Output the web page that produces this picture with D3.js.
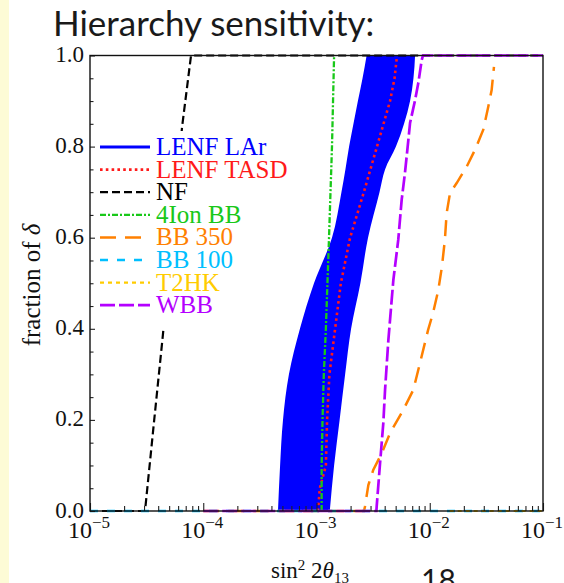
<!DOCTYPE html>
<html>
<head>
<meta charset="utf-8">
<script src="https://cdn.jsdelivr.net/npm/d3@7/dist/d3.min.js"></script>
<style>
  html, body { margin: 0; padding: 0; background: #ffffff; }
  svg { display: block; }
</style>
</head>
<body>
<svg id="chart" width="564" height="583"></svg>
<script>
// Fraction of delta (CP phase) for which the mass hierarchy can be determined,
// as a function of sin^2 2theta13, for several facilities.

// LENF LAr: shaded band (lower / upper edge in sin^2 2theta13 at each fraction)
const larFrac = [0, 0.1, 0.2, 0.3, 0.4, 0.5, 0.6, 0.7, 0.75, 0.8, 0.85, 0.9, 0.95, 1.0];
const larLo   = [4.57e-4, 4.77e-4, 5.06e-4, 5.71e-4, 7.14e-4, 9.5e-4, 1.37e-3, 1.66e-3, 1.80e-3, 1.94e-3, 2.12e-3, 2.32e-3, 2.55e-3, 2.77e-3];
const larHi   = [1.31e-3, 1.43e-3, 1.60e-3, 1.79e-3, 2.02e-3, 2.44e-3, 2.85e-3, 3.60e-3, 4.03e-3, 5.03e-3, 5.93e-3, 6.70e-3, 7.18e-3, 7.42e-3];

// LENF TASD
const tasdX = [1.03e-3, 1.07e-3, 1.21e-3, 1.24e-3, 1.30e-3, 1.46e-3, 1.64e-3, 1.98e-3, 2.62e-3, 3.42e-3, 4.46e-3, 4.89e-3, 5.14e-3];
const tasdY = [0, 0.05, 0.1, 0.2, 0.3, 0.4, 0.5, 0.6, 0.7, 0.8, 0.9, 0.95, 1.0];

// NF
const nfX = [1e-5, 3.06e-5, 3.69e-5, 4.4e-5, 6.5e-5, 7.8e-5, 1e-1];
const nfY = [0, 0, 0.2, 0.386, 0.843, 1.0, 1.0];

// 4Ion BB
const ionX = [1.11e-3, 1.11e-3, 1.13e-3, 1.16e-3, 1.21e-3, 1.29e-3, 1.37e-3, 1.43e-3];
const ionY = [0, 0.1, 0.2, 0.3, 0.4, 0.6, 0.8, 1.0];

// BB 350
const bb350X = [1e-4, 2.63e-3, 2.68e-3, 2.87e-3, 3.17e-3, 3.77e-3, 4.46e-3, 5.84e-3, 7.16e-3, 8.2e-3, 9.66e-3,
                1.07e-2, 1.19e-2, 1.28e-2, 1.36e-2, 1.41e-2, 1.51e-2, 1.73e-2, 2.12e-2, 2.51e-2, 2.97e-2, 3.29e-2, 3.52e-2, 3.69e-2];
const bb350Y = [0, 0, 0.01, 0.057, 0.09, 0.127, 0.171, 0.222, 0.266, 0.325, 0.397,
                0.435, 0.485, 0.536, 0.595, 0.654, 0.698, 0.72, 0.756, 0.793, 0.837, 0.888, 0.924, 0.975];

// BB 100
const bb100X = [1e-5, 1e-1];
const bb100Y = [0, 0];

// T2HK
const t2hkX = [1.5e-2, 1e-1];
const t2hkY = [0, 0];

// WBB
const wbbX = [1e-4, 3.38e-3, 3.40e-3, 3.64e-3, 3.89e-3, 4.03e-3, 4.31e-3, 4.77e-3, 5.27e-3, 5.65e-3, 6.04e-3,
              6.47e-3, 6.70e-3, 7.42e-3, 7.93e-3, 8.49e-3, 8.71e-3, 1e-1];
const wbbY = [0, 0, 0.01, 0.105, 0.193, 0.266, 0.375, 0.507, 0.595, 0.683, 0.742,
              0.814, 0.852, 0.902, 0.940, 0.990, 1.0, 1.0];

// Axis ticks
const yMajor = [0, 0.2, 0.4, 0.6, 0.8, 1.0];
const yMajorLabels = ["0.0", "0.2", "0.4", "0.6", "0.8", "1.0"];
const xDecades = [1e-5, 1e-4, 1e-3, 1e-2, 1e-1];
const xDecadeExp = ["\u22125", "\u22124", "\u22123", "\u22122", "\u22121"];

// Legend entries in drawing order
const seriesNames = ["LENF LAr", "LENF TASD", "NF", "4Ion BB", "BB 350", "BB 100", "T2HK", "WBB"];

const serif = "'Liberation Serif', 'Times New Roman', serif";
const sans = "Lato, 'DejaVu Sans', sans-serif";

const svg = d3.select("#chart");

// slide edge strip
svg.append("rect").attr("x", 0).attr("y", 0).attr("width", 9).attr("height", 583).attr("fill", "#fdfbd6");

// title and page number
svg.append("text").attr("x", 53).attr("y", 36)
  .attr("font-family", sans).attr("font-size", 35)
  .attr("fill", "#1a1a1a").text("Hierarchy sensitivity:");
svg.append("text").attr("x", 421).attr("y", 591)
  .attr("font-family", sans).attr("font-size", 30)
  .attr("fill", "#1a1a1a").text("18");

const x = d3.scaleLog().domain([1e-5, 1e-1]).range([90, 543]);
const y = d3.scaleLinear().domain([0, 1]).range([511, 55.5]);

// series styles
const style = {
  "LENF LAr":  { color: "#0000ff", width: 3.0, dash: null },
  "LENF TASD": { color: "#ff1a1a", width: 2.6, dash: "2.6,3.2" },
  "NF":        { color: "#000000", width: 2.2, dash: "8,4" },
  "4Ion BB":   { color: "#19c819", width: 2.3, dash: "6,2,2,2" },
  "BB 350":    { color: "#ff8000", width: 2.5, dash: "16,9" },
  "BB 100":    { color: "#00bfff", width: 2.4, dash: "8,9" },
  "T2HK":      { color: "#ffcc00", width: 2.2, dash: "4,4" },
  "WBB":       { color: "#b400ff", width: 2.7, dash: "15,4" }
};

const plot = svg.append("g");

// LENF LAr band
const band = larFrac.map((f, i) => ({ f, lo: larLo[i], hi: larHi[i] }));
plot.append("path")
  .datum(band)
  .attr("fill", style["LENF LAr"].color)
  .attr("d", d3.area()
    .curve(d3.curveMonotoneY)
    .y(d => y(d.f))
    .x0(d => x(d.lo))
    .x1(d => x(d.hi)));

const lineGen = d3.line().x(d => x(d[0])).y(d => y(d[1]));
function drawSeries(name, xs, ys) {
  const s = style[name];
  plot.append("path")
    .datum(xs.map((v, i) => [v, ys[i]]))
    .attr("fill", "none")
    .attr("stroke", s.color)
    .attr("stroke-width", s.width)
    .attr("stroke-dasharray", s.dash)
    .attr("d", lineGen);
}
drawSeries("LENF TASD", tasdX, tasdY);
drawSeries("NF", nfX, nfY);
drawSeries("4Ion BB", ionX, ionY);
drawSeries("BB 350", bb350X, bb350Y);
drawSeries("BB 100", bb100X, bb100Y);
drawSeries("T2HK", t2hkX, t2hkY);
drawSeries("WBB", wbbX, wbbY);

// axes: minor / major ticks drawn inward
const xMinor = [];
xDecades.slice(0, -1).forEach(d => { for (let k = 2; k <= 9; k++) xMinor.push(d * k); });
const yMinor = d3.range(0, 1.0001, 0.05).filter(v => Math.abs(v * 5 - Math.round(v * 5)) > 1e-6);

const axX = svg.append("g").attr("transform", `translate(0,${y(0)})`);
axX.append("g").call(d3.axisBottom(x).tickValues(xMinor).tickSize(-5).tickFormat(""));
axX.append("g").call(d3.axisBottom(x).tickValues(xDecades).tickSize(-8).tickFormat(""));
axX.selectAll(".domain").remove();
axX.selectAll("line").attr("stroke", "#222").attr("stroke-width", 1.1);

const axY = svg.append("g").attr("transform", `translate(${x(1e-5)},0)`);
axY.append("g").call(d3.axisLeft(y).tickValues(yMinor).tickSize(-3.5).tickFormat(""));
axY.append("g").call(d3.axisLeft(y).tickValues(yMajor).tickSizeInner(-5).tickSizeOuter(0).tickFormat(""));
axY.selectAll(".domain").remove();
axY.selectAll("line").attr("stroke", "#222").attr("stroke-width", 1.1);

// frame
svg.append("rect")
  .attr("x", x(1e-5)).attr("y", y(1))
  .attr("width", x(1e-1) - x(1e-5)).attr("height", y(0) - y(1))
  .attr("fill", "none").attr("stroke", "#111").attr("stroke-width", 1.4);

// y tick labels
svg.append("g").selectAll("text").data(yMajor).join("text")
  .attr("x", x(1e-5) - 6)
  .attr("y", d => y(d) + 6.5)
  .attr("text-anchor", "end")
  .attr("font-family", serif).attr("font-size", 23)
  .attr("fill", "#111")
  .text((d, i) => yMajorLabels[i]);

// x tick labels: 10 with superscript exponent
const xl = svg.append("g").selectAll("text").data(xDecades).join("text")
  .attr("x", d => x(d) - 1)
  .attr("y", 538)
  .attr("text-anchor", "middle")
  .attr("font-family", serif).attr("font-size", 24)
  .attr("fill", "#111");
xl.append("tspan").text("10");
xl.append("tspan").attr("dy", -10).attr("font-size", 17).text((d, i) => xDecadeExp[i]);

// axis titles
svg.append("text")
  .attr("transform", "translate(40,285) rotate(-90)")
  .attr("text-anchor", "middle")
  .attr("font-family", serif).attr("font-size", 25)
  .attr("fill", "#111")
  .html("fraction of <tspan font-style='italic'>\u03b4</tspan>");

const xt = svg.append("text")
  .attr("x", 271).attr("y", 578)
  .attr("font-family", serif).attr("font-size", 23)
  .attr("fill", "#111");
xt.append("tspan").text("sin");
xt.append("tspan").attr("dy", -8).attr("font-size", 15).text("2");
xt.append("tspan").attr("dy", 8).text(" 2");
xt.append("tspan").attr("font-style", "italic").text("\u03b8");
xt.append("tspan").attr("dy", 5).attr("font-size", 15).text("13");

// legend
const legend = svg.append("g");
legend.append("rect").attr("x", 95).attr("y", 131).attr("width", 198).attr("height", 197).attr("fill", "#ffffff");
seriesNames.forEach((name, i) => {
  const ly = 147 + i * 22.6;
  const s = style[name];
  legend.append("line")
    .attr("x1", 100).attr("x2", 150).attr("y1", ly).attr("y2", ly)
    .attr("stroke", s.color).attr("stroke-width", s.width)
    .attr("stroke-dasharray", s.dash);
  legend.append("text")
    .attr("x", 156).attr("y", ly + 8)
    .attr("font-family", serif).attr("font-size", 25)
    .attr("fill", s.color)
    .text(name);
});
</script>
</body>
</html>
